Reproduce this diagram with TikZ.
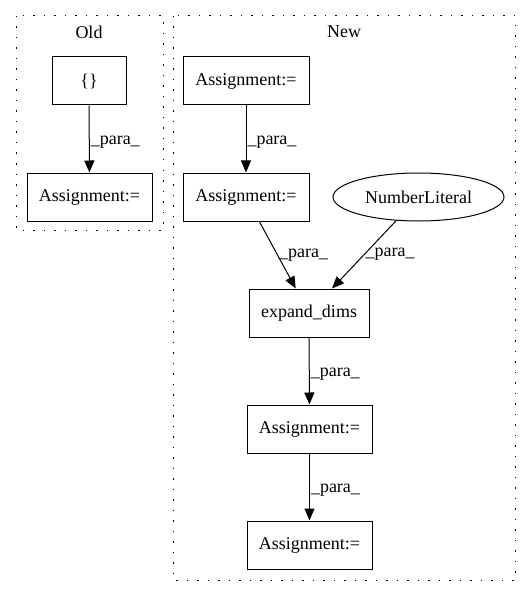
\documentclass[tikz,border=0pt]{standalone}
\usepackage{fontspec}
\setmainfont{Liberation Serif}
\usetikzlibrary{arrows.meta,shapes.geometric}
\begin{document}
\begin{tikzpicture}[x=1pt,y=-1pt,
	box/.style={draw,line width=1pt,minimum height=48pt,inner sep=0pt,font=\fontsize{18}{22}\selectfont},
	oval/.style={box,ellipse,minimum width=171pt},
	para/.style={-{Triangle[length=12pt,width=10pt]},line width=1pt},
	lbl/.style={right,inner sep=1pt,font=\fontsize{18}{22}\selectfont},
	title/.style={inner sep=0pt,font=\fontsize{18}{22}\selectfont},
	cluster/.style={line width=1pt,dash pattern=on 1.5pt off 9pt}]
		\useasboundingbox (0,0) rectangle (531,596);
		% clusters
		\draw[cluster] (16,16) rectangle (163,230);
		\draw[cluster] (173,16) rectangle (515,580);
		\node[title] (oldtitle) at (89,32) {Old};
		\node[title] (newtitle) at (344,32) {New};
		% old
		\node[box,minimum width=74pt] (braces) at (89,81) {\{\}};
		\node[box,minimum width=125pt] (oldassign) at (89.5,197) {Assignment:=};
		\draw[para] (braces) -- node[lbl,pos=0.55] {\_para\_} (oldassign);
		% new
		\node[box,minimum width=126pt] (assignA) at (246,81) {Assignment:=};
		\node[box,minimum width=126pt] (assignB) at (246,197) {Assignment:=};
		\node[oval] (numlit) at (418.5,197) {NumberLiteral};
		\node[box,minimum width=120pt] (expand) at (309,313) {expand\_dims};
		\node[box,minimum width=125pt] (assignC) at (309.5,429) {Assignment:=};
		\node[box,minimum width=125pt] (assignD) at (309.5,545) {Assignment:=};
		\draw[para] (assignA) -- node[lbl,pos=0.55] {\_para\_} (assignB);
		\draw[para] (assignB) -- node[lbl,pos=0.5] {\_para\_} (expand);
		\draw[para] (numlit) -- node[lbl,pos=0.5] {\_para\_} (expand);
		\draw[para] (expand) -- node[lbl,pos=0.55] {\_para\_} (assignC);
		\draw[para] (assignC) -- node[lbl,pos=0.55] {\_para\_} (assignD);
\end{tikzpicture}
\end{document}
